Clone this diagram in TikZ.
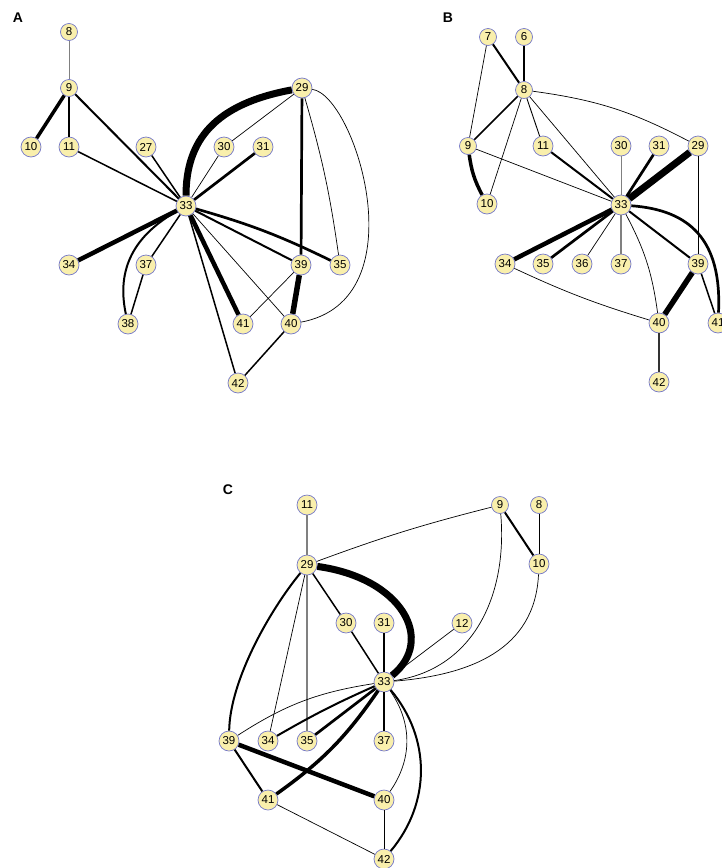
\documentclass[tikz,border=0pt]{standalone}
\usepackage{fontspec}
\setmainfont{Liberation Sans}
\definecolor{nfill}{HTML}{F9EFAC}
\definecolor{nline}{HTML}{7478C8}
\definecolor{egray}{HTML}{808080}
\definecolor{edark}{HTML}{333333}
\tikzset{
  nd/.style={circle, draw=nline, fill=nfill, line width=0.7pt, inner sep=0pt, minimum size=20pt, font=\fontsize{11.5}{11.5}\selectfont},
  sm/.style={nd, minimum size=17pt},
  lab/.style={font=\fontsize{14}{14}\selectfont\bfseries},
  w0/.style={line width=0.7pt},
  wg/.style={line width=1.1pt, draw=egray},
  w1/.style={line width=1.5pt},
  w2/.style={line width=2pt},
  w3/.style={line width=2.7pt},
  w4/.style={line width=3.5pt},
  w5/.style={line width=4.5pt},
  w6/.style={line width=5.5pt},
  w7/.style={line width=7pt},
}
\begin{document}
\begin{tikzpicture}[x=1pt,y=1pt]
\useasboundingbox (0,0) rectangle (721,-868);
% ---------- Panel A ----------
\node[lab] (LA) at (18,-18) {A};
\node[sm] (a8) at (69,-32) {8};
\node[sm] (a9) at (69,-88) {9};
\node[nd] (a10) at (31,-147) {10};
\node[nd] (a11) at (69,-147) {11};
\node[nd] (a27) at (146,-147) {27};
\node[nd] (a30) at (224,-147) {30};
\node[nd] (a31) at (263,-147) {31};
\node[nd] (a29) at (302,-88) {29};
\node[nd] (a33) at (186,-206) {33};
\node[nd] (a34) at (69,-265) {34};
\node[nd] (a37) at (146,-265) {37};
\node[nd] (a38) at (128,-324) {38};
\node[nd] (a39) at (301,-265) {39};
\node[nd] (a35) at (340,-265) {35};
\node[nd] (a41) at (243,-324) {41};
\node[nd] (a40) at (291,-324) {40};
\node[nd] (a42) at (238,-383) {42};
\draw[wg, line width=0.9pt] (a8) -- (a9);
\draw[w4] (a9) -- (a10);
\draw[w2] (a9) -- (a11);
\draw[w2] (a9) -- (a33);
\draw[w1] (a11) -- (a33);
\draw[w1] (a27) -- (a33);
\draw[w0] (a30) -- (a33);
\draw[w3] (a31) -- (a33);
\draw[w0] (a29) -- (a30);
\draw[w7] (a29) .. controls (215,-104) and (186,-140) .. (a33);
\draw[w3] (a29) -- (a39);
\draw[w0] (a29) to[bend left=4] (a35);
\draw[w0] (a29) .. controls (355,-95) and (420,-300) .. (a40);
\draw[w5] (a33) -- (a34);
\draw[w2] (a33) .. controls (135,-235) and (116,-268) .. (a38);
\draw[w1] (a33) -- (a37);
\draw[w1] (a37) -- (a38);
\draw[w3] (a33) to[bend left=5] (a35);
\draw[w2] (a33) -- (a39);
\draw[w5] (a33) -- (a41);
\draw[w0] (a33) -- (a40);
\draw[w1] (a33) -- (a42);
\draw[w6] (a39) -- (a40);
\draw[w0] (a39) -- (a41);
\draw[w1] (a40) -- (a42);
% ---------- Panel B ----------
\node[lab] (LB) at (448,-18) {B};
\node[sm] (b7) at (488,-37) {7};
\node[sm] (b6) at (524,-37) {6};
\node[sm] (b8) at (524,-90) {8};
\node[sm] (b9) at (468,-146) {9};
\node[nd] (b11) at (543,-146) {11};
\node[nd] (b30) at (621,-146) {30};
\node[nd] (b31) at (659,-146) {31};
\node[nd] (b29) at (698,-146) {29};
\node[nd] (b10) at (487,-204) {10};
\node[nd] (b33) at (621,-205) {33};
\node[nd] (b34) at (505,-264) {34};
\node[nd] (b35) at (543,-264) {35};
\node[nd] (b36) at (582,-264) {36};
\node[nd] (b37) at (621,-264) {37};
\node[nd] (b39) at (698,-264) {39};
\node[nd] (b40) at (659,-323) {40};
\node[nd] (b41) at (718,-323) {41};
\node[nd] (b42) at (659,-382) {42};
\draw[w2] (b7) -- (b8);
\draw[w1] (b6) -- (b8);
\draw[w0] (b7) -- (b9);
\draw[w1] (b8) -- (b9);
\draw[w0] (b8) -- (b10);
\draw[w0, line width=0.9pt] (b8) -- (b11);
\draw[w0] (b8) -- (b33);
\draw[w0] (b8) to[bend left=10] (b29);
\draw[w4] (b9) to[bend right=10] (b10);
\draw[w0] (b9) -- (b33);
\draw[w2] (b11) -- (b33);
\draw[wg, line width=1pt] (b30) -- (b33);
\draw[w3] (b31) -- (b33);
\draw[w7] (b29) -- (b33);
\draw[w0] (b29) -- (b39);
\draw[w5] (b33) -- (b34);
\draw[w3] (b33) -- (b35);
\draw[w0] (b33) -- (b36);
\draw[wg] (b33) -- (b37);
\draw[w0] (b33) to[bend left=10] (b40);
\draw[w2] (b33) -- (b39);
\draw[w3] (b33) .. controls (690,-210) and (722,-240) .. (b41);
\draw[w0] (b34) to[bend right=4] (b40);
\draw[w6] (b39) -- (b40);
\draw[w1] (b39) -- (b41);
\draw[w2, draw=edark] (b40) -- (b42);
% ---------- Panel C ----------
\node[lab] (LC) at (228,-490) {C};
\node[nd] (c11) at (307,-505) {11};
\node[nd] (c29) at (307,-565) {29};
\node[nd] (c30) at (346,-623) {30};
\node[nd] (c31) at (384,-623) {31};
\node[nd] (c12) at (462,-623) {12};
\node[sm] (c9) at (500,-505) {9};
\node[sm] (c8) at (539,-505) {8};
\node[nd] (c10) at (539,-564) {10};
\node[nd] (c33) at (384,-682) {33};
\node[nd] (c39) at (229,-741) {39};
\node[nd] (c34) at (268,-741) {34};
\node[nd] (c35) at (307,-741) {35};
\node[nd] (c37) at (384,-741) {37};
\node[nd] (c41) at (268,-800) {41};
\node[nd] (c40) at (384,-800) {40};
\node[nd] (c42) at (384,-859) {42};
\draw[wg] (c11) -- (c29);
\draw[w0] (c29) to[bend left=3] (c9);
\draw[w7] (c29) .. controls (402,-578) and (436,-640) .. (c33);
\draw[w1] (c29) -- (c30);
\draw[w2] (c29) .. controls (270,-610) and (230,-680) .. (c39);
\draw[w0] (c29) -- (c34);
\draw[wg] (c29) -- (c35);
\draw[w1] (c30) -- (c33);
\draw[w0, line width=1.1pt] (c31) -- (c33);
\draw[w0] (c12) -- (c33);
\draw[w2] (c9) -- (c10);
\draw[w0, line width=1pt] (c8) -- (c10);
\draw[w0] (c9) .. controls (508,-600) and (470,-670) .. (c33);
\draw[w0] (c10) .. controls (535,-650) and (470,-675) .. (c33);
\draw[w0] (c33) to[bend right=12] (c39);
\draw[w2] (c33) to[bend right=3] (c34);
\draw[w3] (c33) -- (c35);
\draw[w4] (c33) to[bend left=10] (c41);
\draw[w3] (c33) -- (c37);
\draw[w0] (c33) to[bend left=35] (c40);
\draw[w2] (c33) to[bend left=40] (c42);
\draw[w5] (c39) -- (c40);
\draw[w2] (c39) -- (c41);
\draw[w0] (c41) -- (c42);
\draw[w0, line width=0.8pt] (c40) -- (c42);
\end{tikzpicture}
\end{document}
